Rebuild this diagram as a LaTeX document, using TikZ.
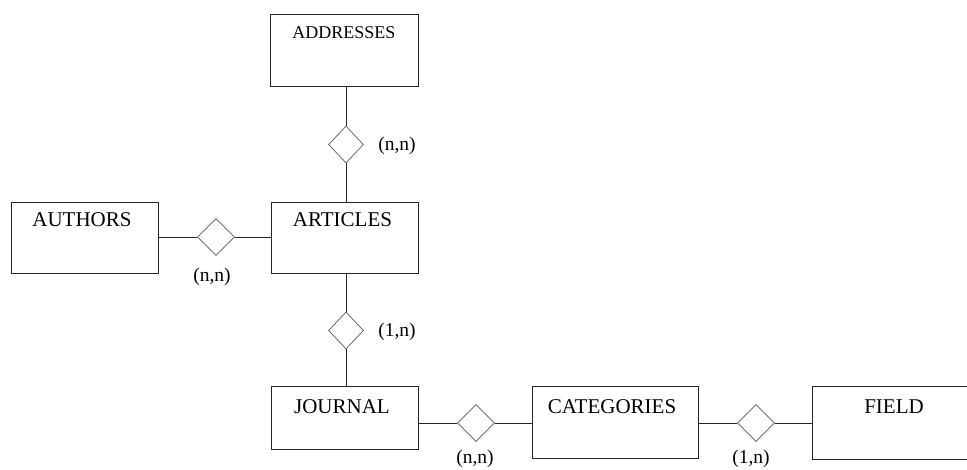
\documentclass[tikz,border=0pt]{standalone}
\usepackage{fontspec}
\setmainfont{Liberation Serif}
\usetikzlibrary{shapes.geometric}
\begin{document}
\begin{tikzpicture}[x=1pt,y=-1pt,
  entity/.style={draw=black!85,line width=0.9pt,rectangle,inner sep=0pt},
  rel/.style={draw=black!65,line width=0.7pt,diamond,inner sep=0pt,minimum width=37pt,minimum height=37pt},
  lbl/.style={font=\fontsize{19.5}{21}\selectfont,inner sep=0pt},
  ttl/.style={font=\fontsize{21}{23}\selectfont,inner sep=0pt},
  conn/.style={draw=black!85,line width=0.8pt}]
\useasboundingbox (0,0) rectangle (967,469);
\clip (0,0) rectangle (967,469);
% entities
\node[entity,minimum width=148pt,minimum height=72pt] (add) at (344,50) {};
\node[entity,minimum width=147pt,minimum height=71pt] (aut) at (84.5,237.5) {};
\node[entity,minimum width=147pt,minimum height=71pt] (art) at (344.5,237.5) {};
\node[entity,minimum width=147pt,minimum height=63pt] (jou) at (344.5,417.5) {};
\node[entity,minimum width=166pt,minimum height=72pt] (cat) at (615,422) {};
\node[entity,minimum width=168pt,minimum height=73pt] (fie) at (896,422.5) {};
% titles
\node[font=\fontsize{18}{20}\selectfont,inner sep=0pt] (taddr) at (344,33) {ADDRESSES};
\node[ttl] (taut) at (82,220) {AUTHORS};
\node[ttl] (tart) at (342.5,220) {ARTICLES};
\node[ttl] (tjou) at (342,407) {JOURNAL};
\node[ttl] (tcat) at (612,407) {CATEGORIES};
\node[ttl] (tfie) at (894,407) {FIELD};
% relationships
\node[rel,minimum width=35pt] (r1) at (346,144.5) {};
\node[rel] (r2) at (216,237) {};
\node[rel,minimum width=35pt] (r3) at (346,330.5) {};
\node[rel] (r4) at (476,423) {};
\node[rel] (r5) at (756,423) {};
% connectors
\draw[conn] (r1.north) -- (r1.north |- add.south);
\draw[conn] (r1.south) -- (r1.south |- art.north);
\draw[conn] (r2.west) -- (r2.west -| aut.east);
\draw[conn] (r2.east) -- (r2.east -| art.west);
\draw[conn] (r3.north) -- (r3.north |- art.south);
\draw[conn] (r3.south) -- (r3.south |- jou.north);
\draw[conn] (r4.west) -- (r4.west -| jou.east);
\draw[conn] (r4.east) -- (r4.east -| cat.west);
\draw[conn] (r5.west) -- (r5.west -| cat.east);
\draw[conn] (r5.east) -- (r5.east -| fie.west);
% cardinalities
\node[lbl] (c1) at (397,146) {(n,n)};
\node[lbl] (c2) at (212,277) {(n,n)};
\node[lbl] (c3) at (397,332) {(1,n)};
\node[lbl] (c4) at (475,459) {(n,n)};
\node[lbl] (c5) at (751,459) {(1,n)};
\end{tikzpicture}
\end{document}
